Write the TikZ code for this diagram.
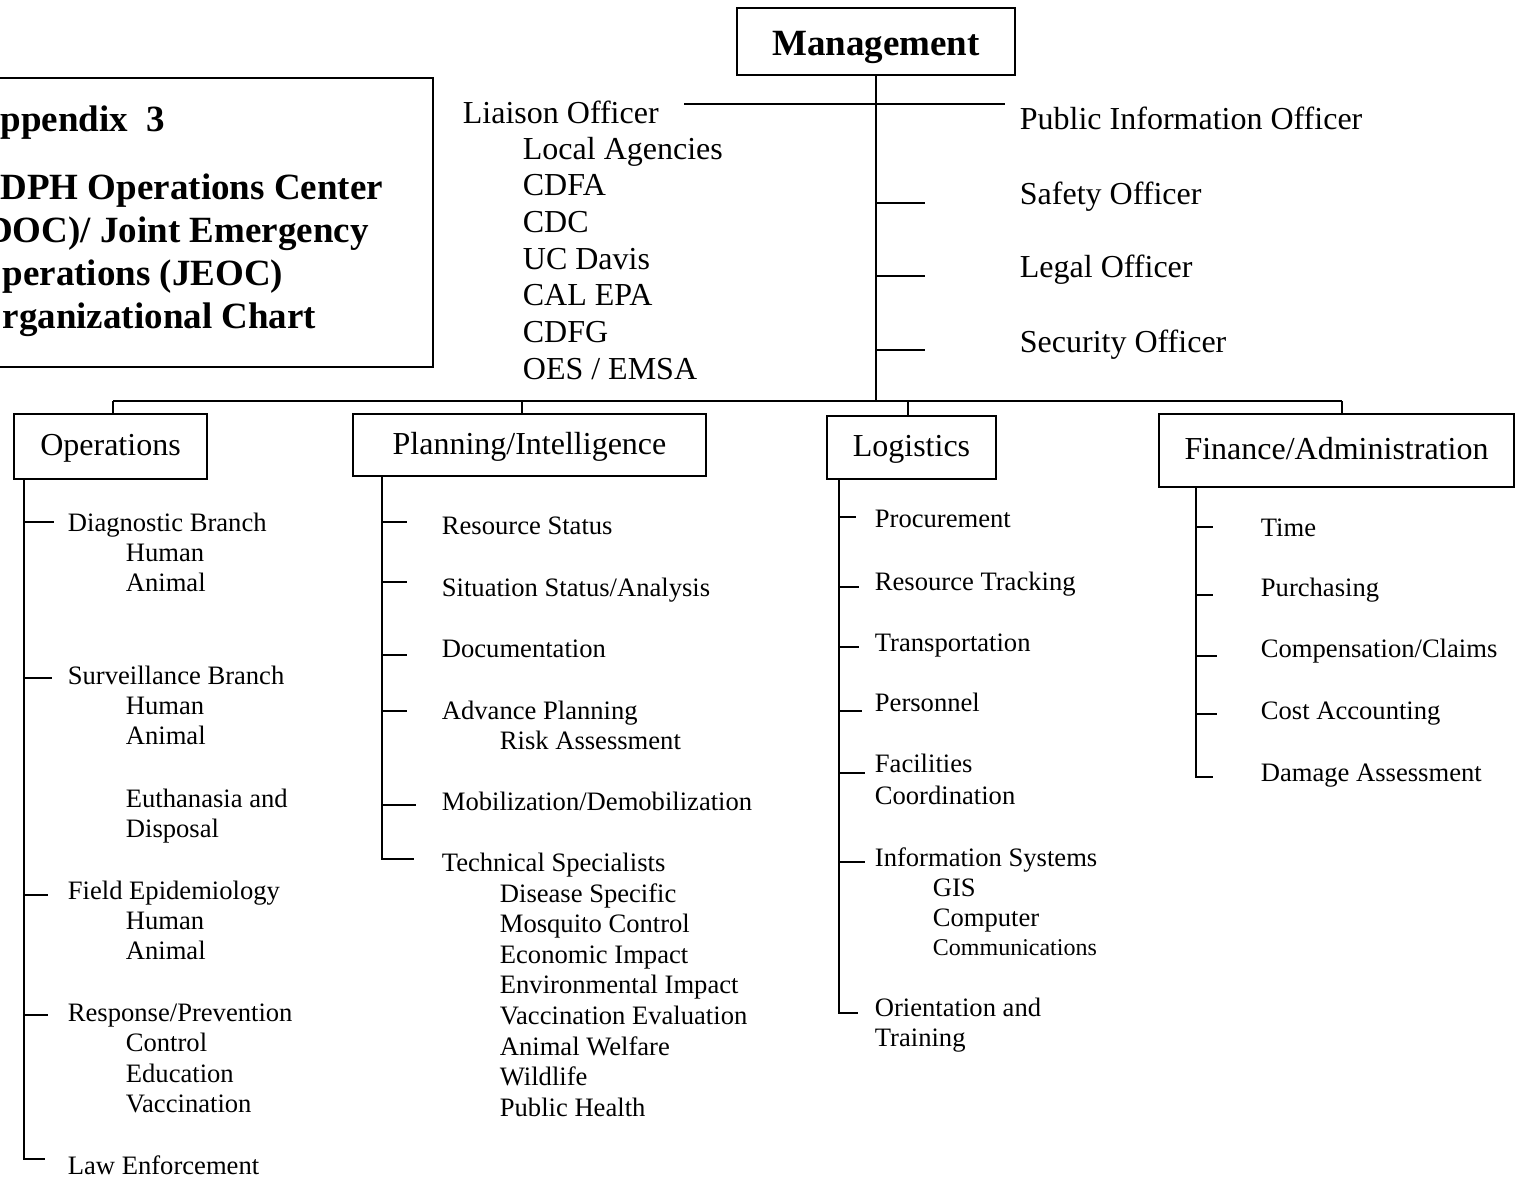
\documentclass[tikz,border=0pt]{standalone}
\usepackage{fontspec}
\setmainfont{Liberation Serif}
\begin{document}
\begin{tikzpicture}[x=0.5pt, y=-0.5pt, line width=0.9pt,
		unit/.style={draw, rectangle, inner sep=0pt, text height=12pt, text depth=3pt, font=\fontsize{16}{19}\selectfont},
		chief/.style={unit, text height=13.5pt, text depth=0pt, font=\fontsize{18.5}{22}\selectfont\bfseries},
		officer/.style={anchor=base west, inner sep=0pt, font=\fontsize{16}{19}\selectfont},
		item/.style={anchor=base west, inner sep=0pt, font=\fontsize{13.3}{15}\selectfont},
		titleline/.style={anchor=base west, inner sep=0pt, font=\fontsize{18.5}{21.5}\selectfont\bfseries}]
	\useasboundingbox (0,0) rectangle (1522,1184);
	% title block, cut by the left page edge
	\draw[line width=1.2pt] (-60,78) rectangle (433,367);
	\foreach \t/\y [count=\i] in {Appendix~~3/131, CDPH Operations Center/199, {(DOC)/ Joint Emergency}/242, Operations (JEOC)/285, Organizational Chart/328}
		\node[titleline] (title\i) at (-27,\y) {\t};
	% management and command staff
	\node[chief, minimum width=139pt, minimum height=33.5pt] (mgmt) at (876,41.5) {Management};
	\coordinate (bus) at (876,401);
	\draw (mgmt) -- (bus);
	\node[officer] (liaison) at (462,123) {Liaison Officer};
	\foreach \t [count=\i from 0] in {Local Agencies, CDFA, CDC, UC Davis, CAL EPA, CDFG, {OES / EMSA}}
		\node[officer] (agency\i) at (522,{159+36.7*\i}) {\t};
	\coordinate (liaisonL) at (684,104);
	\coordinate (liaisonR) at (1005,104);
	\draw (liaisonL) -- (liaisonR);
	\node[officer] (pio) at (1019,129) {Public Information Officer};
	\foreach \t/\y/\ty [count=\i] in {Safety Officer/204/203, Legal Officer/277/276, Security Officer/352/350} {
		\node[officer] (officer\i) at (1019,\y) {\t};
		\coordinate (otick\i) at (925,\ty);
		\draw (otick\i -| bus) -- (otick\i);
	}
	% sections
	\node[unit, minimum width=96.5pt, minimum height=32.5pt] (ops) at (110.5,446.5) {Operations\hspace{6pt}};
	\node[unit, minimum width=176.5pt, minimum height=31pt] (plan) at (529.5,445) {Planning/Intelligence};
	\node[unit, minimum width=84.5pt, minimum height=31.5pt] (log) at (911.5,447.5) {Logistics};
	\node[unit, minimum width=177.5pt, minimum height=36.5pt] (fin) at (1336.5,450.5) {Finance/Administration};
	\draw ([xshift=1.25pt]ops.north |- bus) -- ([xshift=2.75pt]fin.north |- bus);
	\foreach \b/\dx in {ops/1.25pt, plan/-3.75pt, log/-1.75pt, fin/2.75pt}
		\draw ([xshift=\dx]\b.north) -- ([xshift=\dx]\b.north |- bus);
	% Operations
	\coordinate (opsline) at ([xshift=5.5pt]ops.south west);
	\foreach \t/\y/\ty/\tx [count=\i] in {Diagnostic Branch/531/522/54, Surveillance Branch/684/678/52, Field Epidemiology/899/895/48, {Response/Prevention}/1021/1015/48, Law Enforcement/1174/1159/45} {
		\node[item] (ops\i) at (67,\y) {\t};
		\coordinate (opstick\i) at (\tx,\ty);
		\draw (opstick\i -| opsline) -- (opstick\i);
	}
	\draw (opsline) |- (opstick5);
	\foreach \t/\y [count=\i] in {Human/561, Animal/591, Human/714, Animal/744, Euthanasia and/807, Disposal/837, Human/929, Animal/959, Control/1051, Education/1082, Vaccination/1112}
		\node[item] (opssub\i) at (125,\y) {\t};
	% Planning/Intelligence
	\coordinate (planline) at ([xshift=15pt]plan.south west);
	\foreach \t/\y/\ty/\tx [count=\i] in {Resource Status/534/522/407, {Situation Status/Analysis}/596/582/407, Documentation/657/655/407, Advance Planning/719/711/407, {Mobilization/Demobilization}/810/805/416, Technical Specialists/871/859/414} {
		\node[item] (plan\i) at (441,\y) {\t};
		\coordinate (plantick\i) at (\tx,\ty);
		\draw (plantick\i -| planline) -- (plantick\i);
	}
	\draw (planline) |- (plantick6);
	\node[item] (risk) at (499,749) {Risk Assessment};
	\foreach \t [count=\i from 0] in {Disease Specific, Mosquito Control, Economic Impact, Environmental Impact, Vaccination Evaluation, Animal Welfare, Wildlife, Public Health}
		\node[item] (spec\i) at (499,{902+30.6*\i}) {\t};
	% Logistics
	\coordinate (logline) at ([xshift=6.5pt]log.south west);
	\foreach \t/\y/\ty/\tx [count=\i] in {Procurement/527/517/856, Resource Tracking/590/587/859, Transportation/651/647/859, Personnel/711/711/862, Facilities/772/773/865, Information Systems/866/862/865, Orientation and/1016/1013/858} {
		\node[item] (log\i) at (874,\y) {\t};
		\coordinate (logtick\i) at (\tx,\ty);
		\draw (logtick\i -| logline) -- (logtick\i);
	}
	\draw (logline) |- (logtick7);
	\node[item] (coord) at (874,804) {Coordination};
	\node[item] (gis) at (932,896) {GIS};
	\node[item] (computer) at (932,926) {Computer};
	\node[item, font=\fontsize{12}{14}\selectfont] (comms) at (932,955) {Communications};
	\node[item] (training) at (874,1046) {Training};
	% Finance/Administration
	\coordinate (finline) at ([xshift=19pt]fin.south west);
	\foreach \t/\y/\ty/\tx [count=\i] in {Time/536/527/1213, Purchasing/596/595/1213, {Compensation/Claims}/657/656/1217, Cost Accounting/719/714/1217, Damage Assessment/781/777/1213} {
		\node[item] (fin\i) at (1260,\y) {\t};
		\coordinate (fintick\i) at (\tx,\ty);
		\draw (fintick\i -| finline) -- (fintick\i);
	}
	\draw (finline) |- (fintick5);
\end{tikzpicture}
\end{document}
